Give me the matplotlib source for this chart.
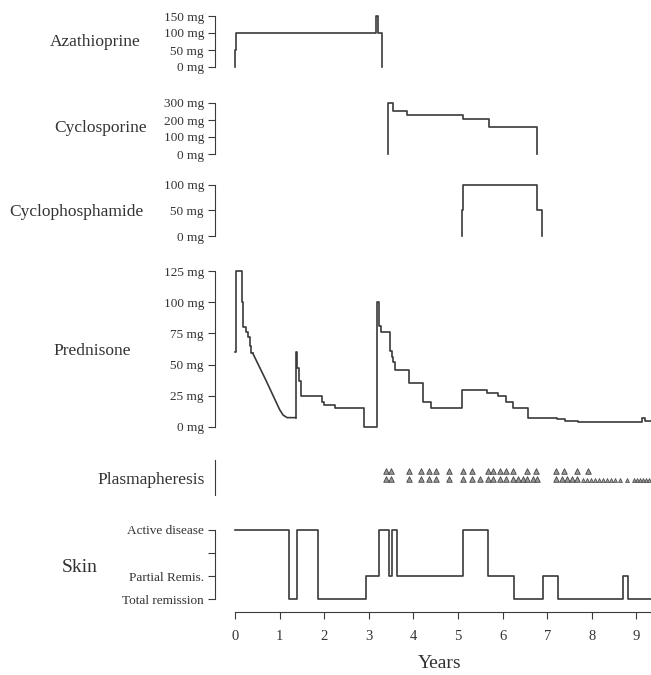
import matplotlib.pyplot as plt

plt.rcParams['font.family'] = ['Liberation Serif', 'DejaVu Serif']

# ---- data (years, dose in mg) ----
aza_t = [0, 0, 0.03, 3.16, 3.21, 3.29]
aza_d = [0, 50, 100, 150, 100, 0]

cyclo_t = [3.42, 3.42, 3.55, 3.86, 5.12, 5.70, 6.76]
cyclo_d = [0, 300, 255, 230, 205, 160, 0]

cph_t = [5.08, 5.08, 5.12, 6.78, 6.88]
cph_d = [0, 50, 100, 50, 0]

# prednisone: initial steps, linear taper, then steps again
pred_t1 = [0, 0.03, 0.15, 0.19, 0.24, 0.30, 0.34, 0.37, 0.40]
pred_d1 = [60, 125, 100, 80, 76, 72, 65, 59, 59]
taper_t = [0.40, 0.70, 1.00, 1.08, 1.17, 1.36]
taper_d = [59, 37, 14, 9.5, 7.5, 7.5]
pred_t2 = [1.36, 1.36, 1.38, 1.40, 1.43, 1.48, 1.94, 2.00, 2.24, 2.89, 3.18, 3.22, 3.27,
           3.48, 3.52, 3.55, 3.58, 3.90, 4.22, 4.40, 5.10, 5.64, 5.90, 6.08, 6.24,
           6.56, 7.21, 7.40, 7.70, 9.12, 9.20, 9.33]
pred_d2 = [7.5, 60, 55, 47, 37, 25, 20, 17.5, 15, 0, 100, 81, 76,
           61, 56, 52, 46, 35, 20, 15, 30, 27.5, 25, 20, 15,
           7.5, 6.25, 5, 3.75, 7.5, 5, 5]

# plasmapheresis sessions (two rows of triangles)
plasma_upper = [3.39, 3.50, 3.90, 4.17, 4.35, 4.51, 4.80, 5.11, 5.31, 5.67, 5.78,
                5.94, 6.08, 6.23, 6.55, 6.75, 7.20, 7.38, 7.67, 7.91]
plasma_lower = [3.39, 3.50, 3.90, 4.17, 4.35, 4.51, 4.80, 5.11, 5.31, 5.49, 5.67,
                5.78, 5.94, 6.08, 6.23, 6.35, 6.46, 6.55, 6.68, 6.77, 7.20, 7.33,
                7.44, 7.56, 7.67]
plasma_lower_small = [7.80, 7.89, 7.98, 8.07, 8.16, 8.25, 8.34, 8.43, 8.52, 8.63,
                      8.79, 8.95, 9.01, 9.08, 9.15, 9.22, 9.28]

skin_t = [0, 1.20, 1.38, 1.87, 2.93, 3.23, 3.46, 3.51, 3.63, 5.12, 5.67, 6.26,
          6.91, 7.24, 8.71, 8.82, 9.33]
skin_level = [3, 0, 3, 0, 1, 3, 1, 3, 1, 3, 1, 0, 1, 0, 1, 0, 0]
skin_labels = ['Total remission', 'Partial Remis.', '', 'Active disease']

W, H = 651, 675
XLIM = (-0.448, 9.327)
LC = '#3a3a3a'

fig = plt.figure(figsize=(W / 100, H / 100), dpi=100)


def panel(y_top, y_bot):
    ax = fig.add_axes([215 / W, 1 - y_bot / H, (W - 215) / W, (y_bot - y_top) / H])
    ax.set_xlim(*XLIM)
    for s in ['top', 'right', 'bottom']:
        ax.spines[s].set_visible(False)
    ax.spines['left'].set_color(LC)
    ax.set_xticks([])
    ax.tick_params(axis='y', direction='out', length=5, color=LC, labelsize=9.5,
                   labelcolor='#333333', pad=3)
    ax.patch.set_alpha(0)
    return ax


def name(x, y, txt, size=12.5):
    fig.text(x / W, 1 - y / H, txt, ha='center', va='center', fontsize=size, color='#333333')


# Azathioprine
ax = panel(16, 67)
ax.step(aza_t, aza_d, where='post', color=LC, lw=1.2, clip_on=False)
ax.set_ylim(0, 150)
ax.set_yticks([0, 50, 100, 150])
ax.set_yticklabels(['0 mg', '50 mg', '100 mg', '150 mg'])
name(95, 42, 'Azathioprine')

# Cyclosporine
ax = panel(103, 154)
ax.step(cyclo_t, cyclo_d, where='post', color=LC, lw=1.2, clip_on=False)
ax.set_ylim(0, 300)
ax.set_yticks([0, 100, 200, 300])
ax.set_yticklabels(['0 mg', '100 mg', '200 mg', '300 mg'])
name(101, 128, 'Cyclosporine')

# Cyclophosphamide
ax = panel(185, 236)
ax.step(cph_t, cph_d, where='post', color=LC, lw=1.2, clip_on=False)
ax.set_ylim(0, 100)
ax.set_yticks([0, 50, 100])
ax.set_yticklabels(['0 mg', '50 mg', '100 mg'])
name(76, 212, 'Cyclophosphamide')

# Prednisone
ax = panel(271, 427)
ax.step(pred_t1, pred_d1, where='post', color=LC, lw=1.2, clip_on=False)
ax.plot(taper_t, taper_d, color=LC, lw=1.2, clip_on=False)
ax.step(pred_t2, pred_d2, where='post', color=LC, lw=1.2, clip_on=False)
ax.set_ylim(0, 125)
ax.set_yticks([0, 25, 50, 75, 100, 125])
ax.set_yticklabels(['0 mg', '25 mg', '50 mg', '75 mg', '100 mg', '125 mg'])
name(92, 351, 'Prednisone')

# Plasmapheresis
ax = panel(460, 495)
ax.set_ylim(0, 1)
ax.set_yticks([])
ax.scatter(plasma_upper, [0.69] * len(plasma_upper), marker='^', s=16,
           facecolor='#9a9a9a', edgecolor='#444444', linewidths=0.6, clip_on=False)
ax.scatter(plasma_lower, [0.47] * len(plasma_lower), marker='^', s=16,
           facecolor='#9a9a9a', edgecolor='#444444', linewidths=0.6, clip_on=False)
ax.scatter(plasma_lower_small, [0.44] * len(plasma_lower_small), marker='^', s=8,
           facecolor='#9a9a9a', edgecolor='#444444', linewidths=0.5, clip_on=False)
name(151, 480, 'Plasmapheresis')

# Skin
ax = panel(530, 612)
ax.step(skin_t, skin_level, where='post', color=LC, lw=1.2, clip_on=False)
ax.set_ylim(-0.565, 3)
ax.spines['left'].set_bounds(0, 3)
ax.set_yticks([0, 1, 2, 3])
ax.set_yticklabels(skin_labels)
ax.spines['bottom'].set_visible(True)
ax.spines['bottom'].set_color(LC)
ax.spines['bottom'].set_bounds(0, XLIM[1])
ax.set_xticks(range(10))
ax.tick_params(axis='x', direction='out', length=5, color=LC, labelsize=10.5,
               labelcolor='#333333', pad=8)
name(80, 567, 'Skin', size=14)
name(440, 664, 'Years', size=14)

fig.savefig('out.png', dpi=100)
